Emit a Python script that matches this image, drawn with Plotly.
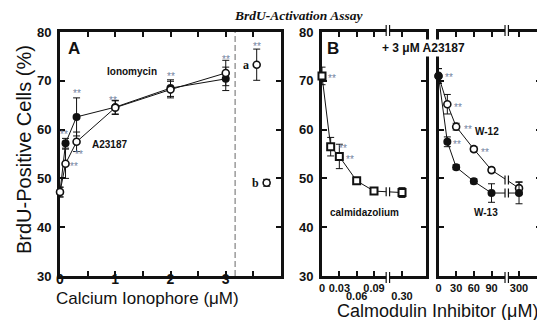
import plotly.graph_objects as go

# ------------------------------------------------------------------ data
ionophore_conc = [0, 0.1, 0.3, 1, 2, 3]            # µM
ionomycin_pct = [47.2, 57.2, 62.6, 64.6, 68.5, 70.4]
ionomycin_err = [1.0, 1.0, 3.9, 1.4, 1.7, 2.4]
a23187_pct = [47.2, 53.0, 57.5, 64.5, 68.2, 71.6]
a23187_err = [1.0, 3.0, 2.0, 1.4, 1.7, 2.6]

control_labels = ["a", "b"]
control_pct = [73.3, 49.1]
control_err = [3.2, 0.7]

calm_conc = [0, 0.015, 0.03, 0.06, 0.09, 0.30]     # calmidazolium, µM
calm_pct = [71.0, 56.5, 54.5, 49.5, 47.4, 47.1]
calm_err = [1.8, 1.9, 2.5, 0.5, 0.5, 1.0]

w_conc = [0, 15, 30, 60, 90, 300]                  # W-12 / W-13, µM
w12_pct = [71.0, 65.2, 60.6, 56.0, 51.7, 48.0]
w12_err = [1.5, 2.0, 0.7, 0.5, 0.5, 1.3]
w13_pct = [71.0, 57.5, 52.3, 49.4, 47.0, 47.0]
w13_err = [1.5, 1.0, 0.5, 0.5, 1.9, 2.2]

edge_label = "b"
edge_pct = [48.7]

y_ticks = [30, 40, 50, 60, 70, 80]
ionophore_ticks = [0, 1, 2, 3]
calm_ticks = [0, 0.03, 0.06, 0.09, 0.30]
calm_tick_text = ["0", "0.03", "0.06", "0.09", "0.30"]
calm_lower_row = ["0.06", "0.30"]
w_ticks = [0, 30, 60, 90, 300]
w_tick_text = ["0", "30", "60", "90", "300"]

# ------------------------------------------------------------------ layout constants
W, H = 545, 320          # target picture
OFF = 8                  # page body margin that shifts the figure
FIG_W, FIG_H = W - OFF, H - OFF
SANS = "Liberation Sans, Arial, sans-serif"
SERIF = "Liberation Serif, Times New Roman, serif"
INK = "#111111"
STAR = "#7383a0"

A_PX = (60, 281)
B1_PX = (322, 426)
B2_PX = (438.5, 541)
TOP_PX, BOT_PX = 32, 276

Y_RANGE = [30, 80]
A_RANGE = [0, 4]
B1_RANGE = [0, 0.18]
B2_RANGE = [0, 174]

CONTROL_X = [3.56, 3.74]
SEPARATOR_X = 3.17
B1_BREAK = dict(last=0.09, after=0.30, after_pos=0.1385, cut=0.114)
B2_BREAK = dict(last=90, after=300, after_pos=136.7, cut=115.8)


def squeeze(v, br):
    return v if v <= br["last"] else br["after_pos"] + (v - br["after"])


def px_x(px):
    return (px - OFF) / FIG_W


def px_y(py):
    return 1 - (py - OFF) / FIG_H


def xdom(p):
    return [px_x(p[0]), px_x(p[1])]


def ppu(p, rng):
    return (p[1] - p[0]) / (rng[1] - rng[0])


YDOM = [px_y(BOT_PX), px_y(TOP_PX)]
Y_PPU = (BOT_PX - TOP_PX) / (Y_RANGE[1] - Y_RANGE[0])

calm_u = [squeeze(v, B1_BREAK) for v in calm_conc]
w_u = [squeeze(v, B2_BREAK) for v in w_conc]
calm_tick_u = [squeeze(v, B1_BREAK) for v in calm_ticks]
w_tick_u = [squeeze(v, B2_BREAK) for v in w_ticks]

fig = go.Figure()


def err(arr):
    return dict(type="data", array=arr, visible=True, color=INK, thickness=1, width=3.5)


filled = dict(color=INK, size=8, line=dict(color=INK, width=0))
openc = dict(color="white", size=7, symbol="circle", line=dict(color=INK, width=1.6))

# Panel A
fig.add_trace(go.Scatter(x=ionophore_conc, y=ionomycin_pct, error_y=err(ionomycin_err),
                         mode="lines+markers", marker=filled, line=dict(color=INK, width=1),
                         xaxis="x", yaxis="y", cliponaxis=False, showlegend=False))
fig.add_trace(go.Scatter(x=ionophore_conc, y=a23187_pct, error_y=err(a23187_err),
                         mode="lines+markers", marker=openc, line=dict(color=INK, width=1),
                         xaxis="x", yaxis="y", cliponaxis=False, showlegend=False))
fig.add_trace(go.Scatter(x=CONTROL_X, y=control_pct, error_y=err(control_err),
                         mode="markers", marker=openc, xaxis="x", yaxis="y",
                         cliponaxis=False, showlegend=False))

# Panel B left: calmidazolium
fig.add_trace(go.Scatter(x=calm_u, y=calm_pct, error_y=err(calm_err), mode="lines+markers",
                         marker=dict(color="white", size=7, symbol="square",
                                     line=dict(color=INK, width=2)),
                         line=dict(color=INK, width=1), xaxis="x2", yaxis="y2",
                         cliponaxis=False, showlegend=False))
# Panel B right: W-12 (open), W-13 (filled)
fig.add_trace(go.Scatter(x=w_u, y=w12_pct, error_y=err(w12_err), mode="lines+markers",
                         marker=openc, line=dict(color=INK, width=1), xaxis="x3", yaxis="y3",
                         cliponaxis=False, showlegend=False))
fig.add_trace(go.Scatter(x=w_u, y=w13_pct, error_y=err(w13_err), mode="lines+markers",
                         marker=filled, line=dict(color=INK, width=1), xaxis="x3", yaxis="y3",
                         cliponaxis=False, showlegend=False))
# spill-over marker at the right edge (clipped by the frame)
fig.add_trace(go.Scatter(x=[B2_RANGE[1] + 0.5], y=edge_pct, mode="markers", marker=openc,
                         xaxis="x3", yaxis="y3", cliponaxis=True, showlegend=False))
# carrier for second-row tick labels of panel B left
fig.add_trace(go.Scatter(x=[None], y=[None], xaxis="x4", yaxis="y2", showlegend=False,
                         hoverinfo="skip"))

# ------------------------------------------------------------------ axes
common_y = dict(range=Y_RANGE, domain=YDOM, tickvals=y_ticks, ticks="inside", ticklen=5,
                tickwidth=2, tickcolor=INK, showline=True, linewidth=3, linecolor=INK,
                mirror="ticks", showgrid=False, zeroline=False, layer="below traces",
                tickfont=dict(family=SANS, size=13, color=INK, weight="bold"),
                ticklabelstandoff=3)
common_x = dict(ticks="inside", ticklen=5, tickwidth=2, tickcolor=INK, showline=True,
                linewidth=3, linecolor=INK, mirror="ticks", showgrid=False, zeroline=False,
                layer="below traces")

a_tickvals = [v / 2 for v in range(0, 8)]
a_ticktext = [str(int(v)) if v in ionophore_ticks else "" for v in a_tickvals]

b1_ticktext_top = [t if t not in calm_lower_row else "" for t in calm_tick_text]
lower_u = [u for u, t in zip(calm_tick_u, calm_tick_text) if t in calm_lower_row]
lower_t = [t for t in calm_tick_text if t in calm_lower_row]

fig.update_layout(
    width=FIG_W, height=FIG_H, margin=dict(l=0, r=0, t=0, b=0, pad=0, autoexpand=False),
    paper_bgcolor="white", plot_bgcolor="white",
    xaxis=dict(common_x, domain=xdom(A_PX), range=A_RANGE, anchor="y",
               tickvals=a_tickvals, ticktext=a_ticktext,
               tickfont=dict(family=SANS, size=14, color=INK, weight="bold"),
               ticklabelstandoff=-12),
    yaxis=dict(common_y, anchor="x"),
    xaxis2=dict(common_x, domain=xdom(B1_PX), range=B1_RANGE, anchor="y2",
                tickvals=calm_tick_u, ticktext=b1_ticktext_top,
                tickfont=dict(family=SANS, size=11, color=INK, weight="bold"),
                ticklabelstandoff=0),
    xaxis4=dict(overlaying="x2", range=B1_RANGE, anchor="y2", side="bottom",
                tickvals=lower_u, ticktext=lower_t, ticks="", showline=False,
                showgrid=False, zeroline=False,
                tickfont=dict(family=SANS, size=11, color=INK, weight="bold"),
                ticklabelstandoff=12),
    yaxis2=dict(common_y, anchor="x2"),
    xaxis3=dict(common_x, domain=xdom(B2_PX), range=B2_RANGE, anchor="y3",
                tickvals=w_tick_u, ticktext=w_tick_text,
                tickfont=dict(family=SANS, size=11, color=INK, weight="bold"),
                ticklabelstandoff=0),
    yaxis3=dict(common_y, anchor="x3", showticklabels=False),
)

# ------------------------------------------------------------------ shapes
shapes = []
shapes.append(dict(type="line", xref="x", yref="paper", x0=SEPARATOR_X, x1=SEPARATOR_X,
                   y0=YDOM[0], y1=YDOM[1], line=dict(color="#9a9a9a", width=1.5, dash="6px,3px"),
                   layer="above"))


def add_break(xref, yref, xc, yc, dx, gap_h, bar_h):
    shapes.append(dict(type="rect", xref=xref, yref=yref, x0=xc - dx, x1=xc + dx,
                       y0=yc - gap_h, y1=yc + gap_h, fillcolor="white",
                       line=dict(width=0), layer="above"))
    for s in (-1, 1):
        shapes.append(dict(type="line", xref=xref, yref=yref, x0=xc + s * dx, x1=xc + s * dx,
                           y0=yc - bar_h, y1=yc + bar_h, line=dict(color=INK, width=1.2),
                           layer="above"))


for p, rng, br, xr, yr, xs, ys_list in [
    (B1_PX, B1_RANGE, B1_BREAK, "x2", "y2", calm_u, [calm_pct]),
    (B2_PX, B2_RANGE, B2_BREAK, "x3", "y3", w_u, [w12_pct, w13_pct]),
]:
    dx = 1.7 / ppu(p, rng)
    for py in (BOT_PX + 1.5, TOP_PX - 1.5):
        add_break(xr, "paper", br["cut"], px_y(py), dx, 3 / FIG_H, 5.5 / FIG_H)
    i0 = [i for i, v in enumerate(xs) if v <= br["last"] + 1e-12][-1]
    i1 = i0 + 1
    for ys in ys_list:
        t = (br["cut"] - xs[i0]) / (xs[i1] - xs[i0])
        yc = ys[i0] + t * (ys[i1] - ys[i0])
        add_break(xr, yr, br["cut"], yc, dx, 2.5 / Y_PPU, 4.5 / Y_PPU)

fig.update_layout(shapes=shapes)

# ------------------------------------------------------------------ annotations
ann = []


def txt(text, x, y, size, xref="paper", yref="paper", family=SANS, bold=True, **kw):
    s = f"<b>{text}</b>" if bold else text
    d = dict(text=s, x=x, y=y, xref=xref, yref=yref, showarrow=False,
             xanchor="center", yanchor="middle",
             font=dict(family=family, size=size, color=INK))
    d.update(kw)
    ann.append(d)


txt("<i>BrdU-Activation Assay</i>", px_x(298), px_y(15), 13.5, family=SERIF)
txt("BrdU-Positive Cells (%)", px_x(24), px_y(150), 20, bold=False, textangle=-90)
txt("Calcium Ionophore (μM)", px_x(147.5), px_y(298), 17, bold=False)
txt("Calmodulin Inhibitor (μM)", px_x(437.5), px_y(311), 18, bold=False)
txt("A", px_x(73.5), px_y(49), 17)
txt("B", px_x(332.5), px_y(48.5), 17)
txt("+ 3 μM A23187", px_x(423), px_y(48), 12, bgcolor="white", borderpad=1)
txt("Ionomycin", px_x(132), px_y(71.5), 10)
txt("A23187", px_x(109), px_y(144), 10)
txt("calmidazolium", px_x(364), px_y(212), 10)
txt("W-12", px_x(486.7), px_y(131.5), 10)
txt("W-13", px_x(486), px_y(212), 10)

for lab, xv, yv in zip(control_labels, CONTROL_X, control_pct):
    txt(lab, xv, yv, 12, xref="x", yref="y", family=SERIF, xanchor="right", xshift=-6)
txt(edge_label, B2_RANGE[1] + 0.5, edge_pct[0], 12, xref="x3", yref="y3", family=SERIF,
    xanchor="right", xshift=-4)

STAR_DY = -3
stars = [
    ("x", "y", ionophore_conc[1], ionomycin_pct[1], "center", -2, 12),
    ("x", "y", ionophore_conc[2], ionomycin_pct[2], "center", 0, 26),
    ("x", "y", ionophore_conc[3], a23187_pct[3], "center", -2, 10),
    ("x", "y", ionophore_conc[4], ionomycin_pct[4], "center", 0, 15),
    ("x", "y", ionophore_conc[5], a23187_pct[5], "center", 0, 16),
    ("x", "y", ionophore_conc[1], a23187_pct[1], "center", 8, 0),
    ("x", "y", ionophore_conc[2], a23187_pct[2], "center", 2, -10),
    ("x", "y", CONTROL_X[0], control_pct[0], "center", 0, 21),
    ("x2", "y2", calm_u[0], calm_pct[0], "left", 4, 0),
    ("x2", "y2", calm_u[1], calm_pct[1], "left", 6, 1),
    ("x2", "y2", calm_u[2], calm_pct[2], "left", 5, 0),
    ("x3", "y3", w_u[0], w13_pct[0], "left", 4, 1),
    ("x3", "y3", w_u[1], w12_pct[1], "left", 5, 0),
    ("x3", "y3", w_u[2], w12_pct[2], "left", 6, 0),
    ("x3", "y3", w_u[1], w13_pct[1], "left", 4, 0),
    ("x3", "y3", w_u[3], w12_pct[3], "left", 5, 0),
]
for xr, yr, xv, yv, xa, dx, dy in stars:
    ann.append(dict(text="**", x=xv, y=yv, xref=xr, yref=yr, showarrow=False,
                    xanchor=xa, yanchor="middle", xshift=dx, yshift=dy + STAR_DY,
                    font=dict(family=SANS, size=10, color=STAR)))

fig.update_layout(annotations=ann)

fig.write_html("out.html")
